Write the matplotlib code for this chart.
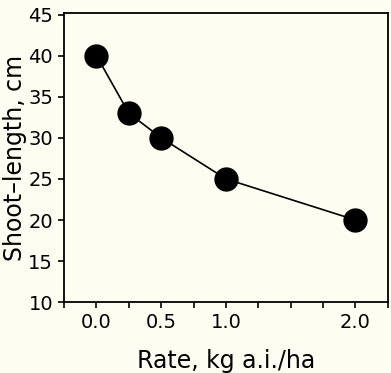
import matplotlib
matplotlib.use("Agg")
import matplotlib.pyplot as plt
import numpy as np

# herbicide rate vs shoot length
rate = [0.0, 0.25, 0.5, 1.0, 2.0]
shoot_length = [40, 33, 30, 25, 20]

x_ticks = np.arange(-0.25, 2.26, 0.25)
x_labels = {0.0: "0.0", 0.5: "0.5", 1.0: "1.0", 2.0: "2.0"}
y_ticks = [10, 15, 20, 25, 30, 35, 40, 45]

bg = "#fdfdf1"
plt.rcParams['font.family'] = ['DejaVu Sans']

fig = plt.figure(figsize=(3.91, 3.73), dpi=100, facecolor=bg)
ax = fig.add_axes([0.164, 0.19, 0.828, 0.775], facecolor=bg)

ax.plot(rate, shoot_length, color="black", lw=1.2, marker="o",
        markersize=16.5, markerfacecolor="black", markeredgecolor="black")

ax.set_xlim(-0.25, 2.25)
ax.set_ylim(10, 45.2)
ax.set_xticks(x_ticks)
ax.set_xticklabels([x_labels.get(round(t, 2), "") for t in x_ticks])
ax.set_yticks(y_ticks)

ax.tick_params(direction="out", length=4, width=1.2, labelsize=14, pad=4)
for s in ax.spines.values():
    s.set_linewidth(1.3)

ax.set_xlabel("Rate, kg a.i./ha", fontsize=17, labelpad=12)
ax.set_ylabel("Shoot\u2013length, cm", fontsize=17, labelpad=1)

fig.savefig("out.png", dpi=100, facecolor=bg)
